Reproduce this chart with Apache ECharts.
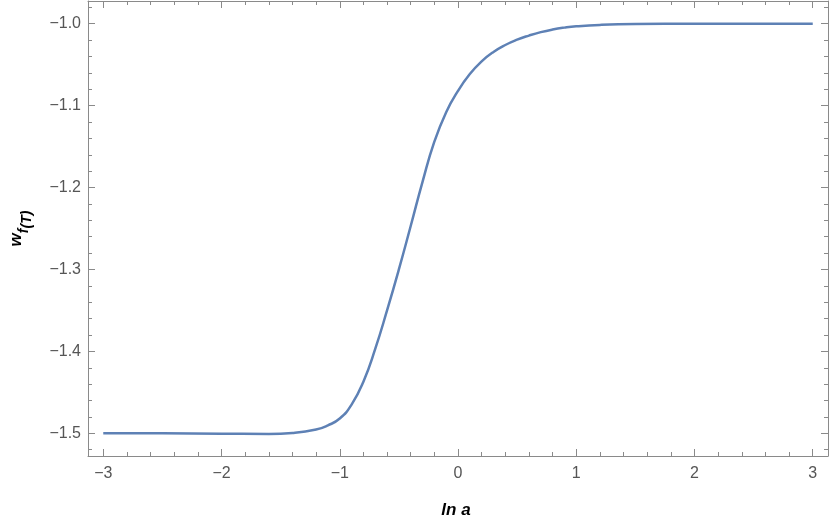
<!DOCTYPE html>
<html>
<head>
<meta charset="utf-8">
<script src="https://cdn.jsdelivr.net/npm/echarts@6/dist/echarts.min.js"></script>
<style>
html,body{margin:0;padding:0;background:#fff;}
#chart{width:830px;height:524px;}
</style>
</head>
<body>
<div id="chart"></div>
<script>
// ln a values
var lnA = [-3, -2.5, -2, -1.6, -1.4, -1.2, -1.1, -1.0, -0.9, -0.8, -0.7, -0.6, -0.5, -0.4, -0.3, -0.2, -0.1, 0, 0.1, 0.2, 0.3, 0.4, 0.5, 0.6, 0.7, 0.8, 0.9, 1.0, 1.2, 1.5, 2, 2.5, 3];
// w_f(T) values
var wfT = [-1.5, -1.5, -1.5004, -1.5008, -1.4995, -1.4953, -1.4903, -1.482, -1.465, -1.437, -1.397, -1.350, -1.300, -1.247, -1.193, -1.144, -1.108, -1.082, -1.0615, -1.046, -1.0345, -1.026, -1.0195, -1.0145, -1.0103, -1.0071, -1.0048, -1.0032, -1.0015, -1.0004, -1.0, -1.0, -1.0];
var xMajorTicks = [-3, -2, -1, 0, 1, 2, 3];
var xMinorTicks = [-2.8, -2.6, -2.4, -2.2, -1.8, -1.6, -1.4, -1.2, -0.8, -0.6, -0.4, -0.2, 0.2, 0.4, 0.6, 0.8, 1.2, 1.4, 1.6, 1.8, 2.2, 2.4, 2.6, 2.8];
var yMajorTicks = [-1.5, -1.4, -1.3, -1.2, -1.1, -1.0];
var yMinorTicks = [-1.52, -1.48, -1.46, -1.44, -1.42, -1.38, -1.36, -1.34, -1.32, -1.28, -1.26, -1.24, -1.22, -1.18, -1.16, -1.14, -1.12, -1.08, -1.06, -1.04, -1.02, -0.98];
var xRange = [-3.129, 3.129];
var yRange = [-1.5277, -0.9723];

var FRAME = '#8a8a8a';
var LABEL = '#555555';
var FONT = 'Liberation Sans, Arial, sans-serif';

function fmtX(v) { return (v < 0 ? '\u2212' : '') + Math.abs(v).toFixed(0); }
function fmtY(v) { return (v < 0 ? '\u2212' : '') + Math.abs(v).toFixed(1); }

function xAx(pos, ticks, len, withLabels, withLine) {
  return {
    type: 'value', position: pos, min: xRange[0], max: xRange[1],
    axisLine: { show: withLine, onZero: false, lineStyle: { color: FRAME, width: 1 } },
    axisTick: { show: true, inside: true, length: len, customValues: ticks, lineStyle: { color: FRAME, width: 1 } },
    axisLabel: withLabels ? { show: true, customValues: ticks, formatter: fmtX, color: LABEL, fontSize: 16, fontFamily: FONT, margin: 10 } : { show: false },
    splitLine: { show: false }
  };
}
function yAx(pos, ticks, len, withLabels, withLine) {
  return {
    type: 'value', position: pos, min: yRange[0], max: yRange[1],
    axisLine: { show: withLine, onZero: false, lineStyle: { color: FRAME, width: 1 } },
    axisTick: { show: true, inside: true, length: len, customValues: ticks, lineStyle: { color: FRAME, width: 1 } },
    axisLabel: withLabels ? { show: true, customValues: ticks, formatter: fmtY, color: LABEL, fontSize: 16, fontFamily: FONT, margin: 7 } : { show: false },
    splitLine: { show: false }
  };
}

var xAxes = [
  xAx('bottom', xMajorTicks, 7, true, true),
  xAx('bottom', xMinorTicks, 4, false, false),
  xAx('top', xMajorTicks, 7, false, true),
  xAx('top', xMinorTicks, 4, false, false)
];
xAxes[0].name = 'ln a';
xAxes[0].nameLocation = 'middle';
xAxes[0].nameGap = 46;
xAxes[0].nameTextStyle = { fontSize: 17, fontWeight: 'bold', fontStyle: 'italic', color: '#000', fontFamily: FONT, padding: [0, 4, 0, 0] };

var yAxes = [
  yAx('left', yMajorTicks, 7, true, true),
  yAx('left', yMinorTicks, 4, false, false),
  yAx('right', yMajorTicks, 7, false, true),
  yAx('right', yMinorTicks, 4, false, false)
];
yAxes[0].name = '{w|w}{f|f}{t|(T)}';
yAxes[0].nameLocation = 'middle';
yAxes[0].nameGap = 54;
yAxes[0].nameRotate = 90;
yAxes[0].nameTextStyle = {
  color: '#000', fontFamily: FONT, padding: [0, 0, 0, 0],
  rich: {
    w: { fontSize: 17, fontWeight: 'bold', fontStyle: 'italic', fontFamily: FONT, color: '#000', verticalAlign: 'top', lineHeight: 18 },
    f: { fontSize: 14, fontWeight: 'bold', fontStyle: 'italic', fontFamily: FONT, color: '#000', verticalAlign: 'bottom', lineHeight: 26, padding: [0, 0, 3, 0] },
    t: { fontSize: 14, fontWeight: 'bold', fontStyle: 'italic', fontFamily: FONT, color: '#000', verticalAlign: 'bottom', lineHeight: 26 }
  }
};

var chart = echarts.init(document.getElementById('chart'), null, { renderer: 'canvas' });
chart.setOption({
  animation: false,
  backgroundColor: '#ffffff',
  grid: { left: 82, right: 2, top: 1, bottom: 62.5, containLabel: false },
  xAxis: xAxes,
  yAxis: yAxes,
  series: [{
    type: 'line',
    xAxisIndex: 0, yAxisIndex: 0,
    data: lnA.map(function (x, i) { return [x, wfT[i]]; }),
    smooth: 0.5,
    showSymbol: false,
    lineStyle: { color: '#5E81B5', width: 2.5 },
    itemStyle: { color: '#5E81B5' }
  }]
});
</script>
</body>
</html>
